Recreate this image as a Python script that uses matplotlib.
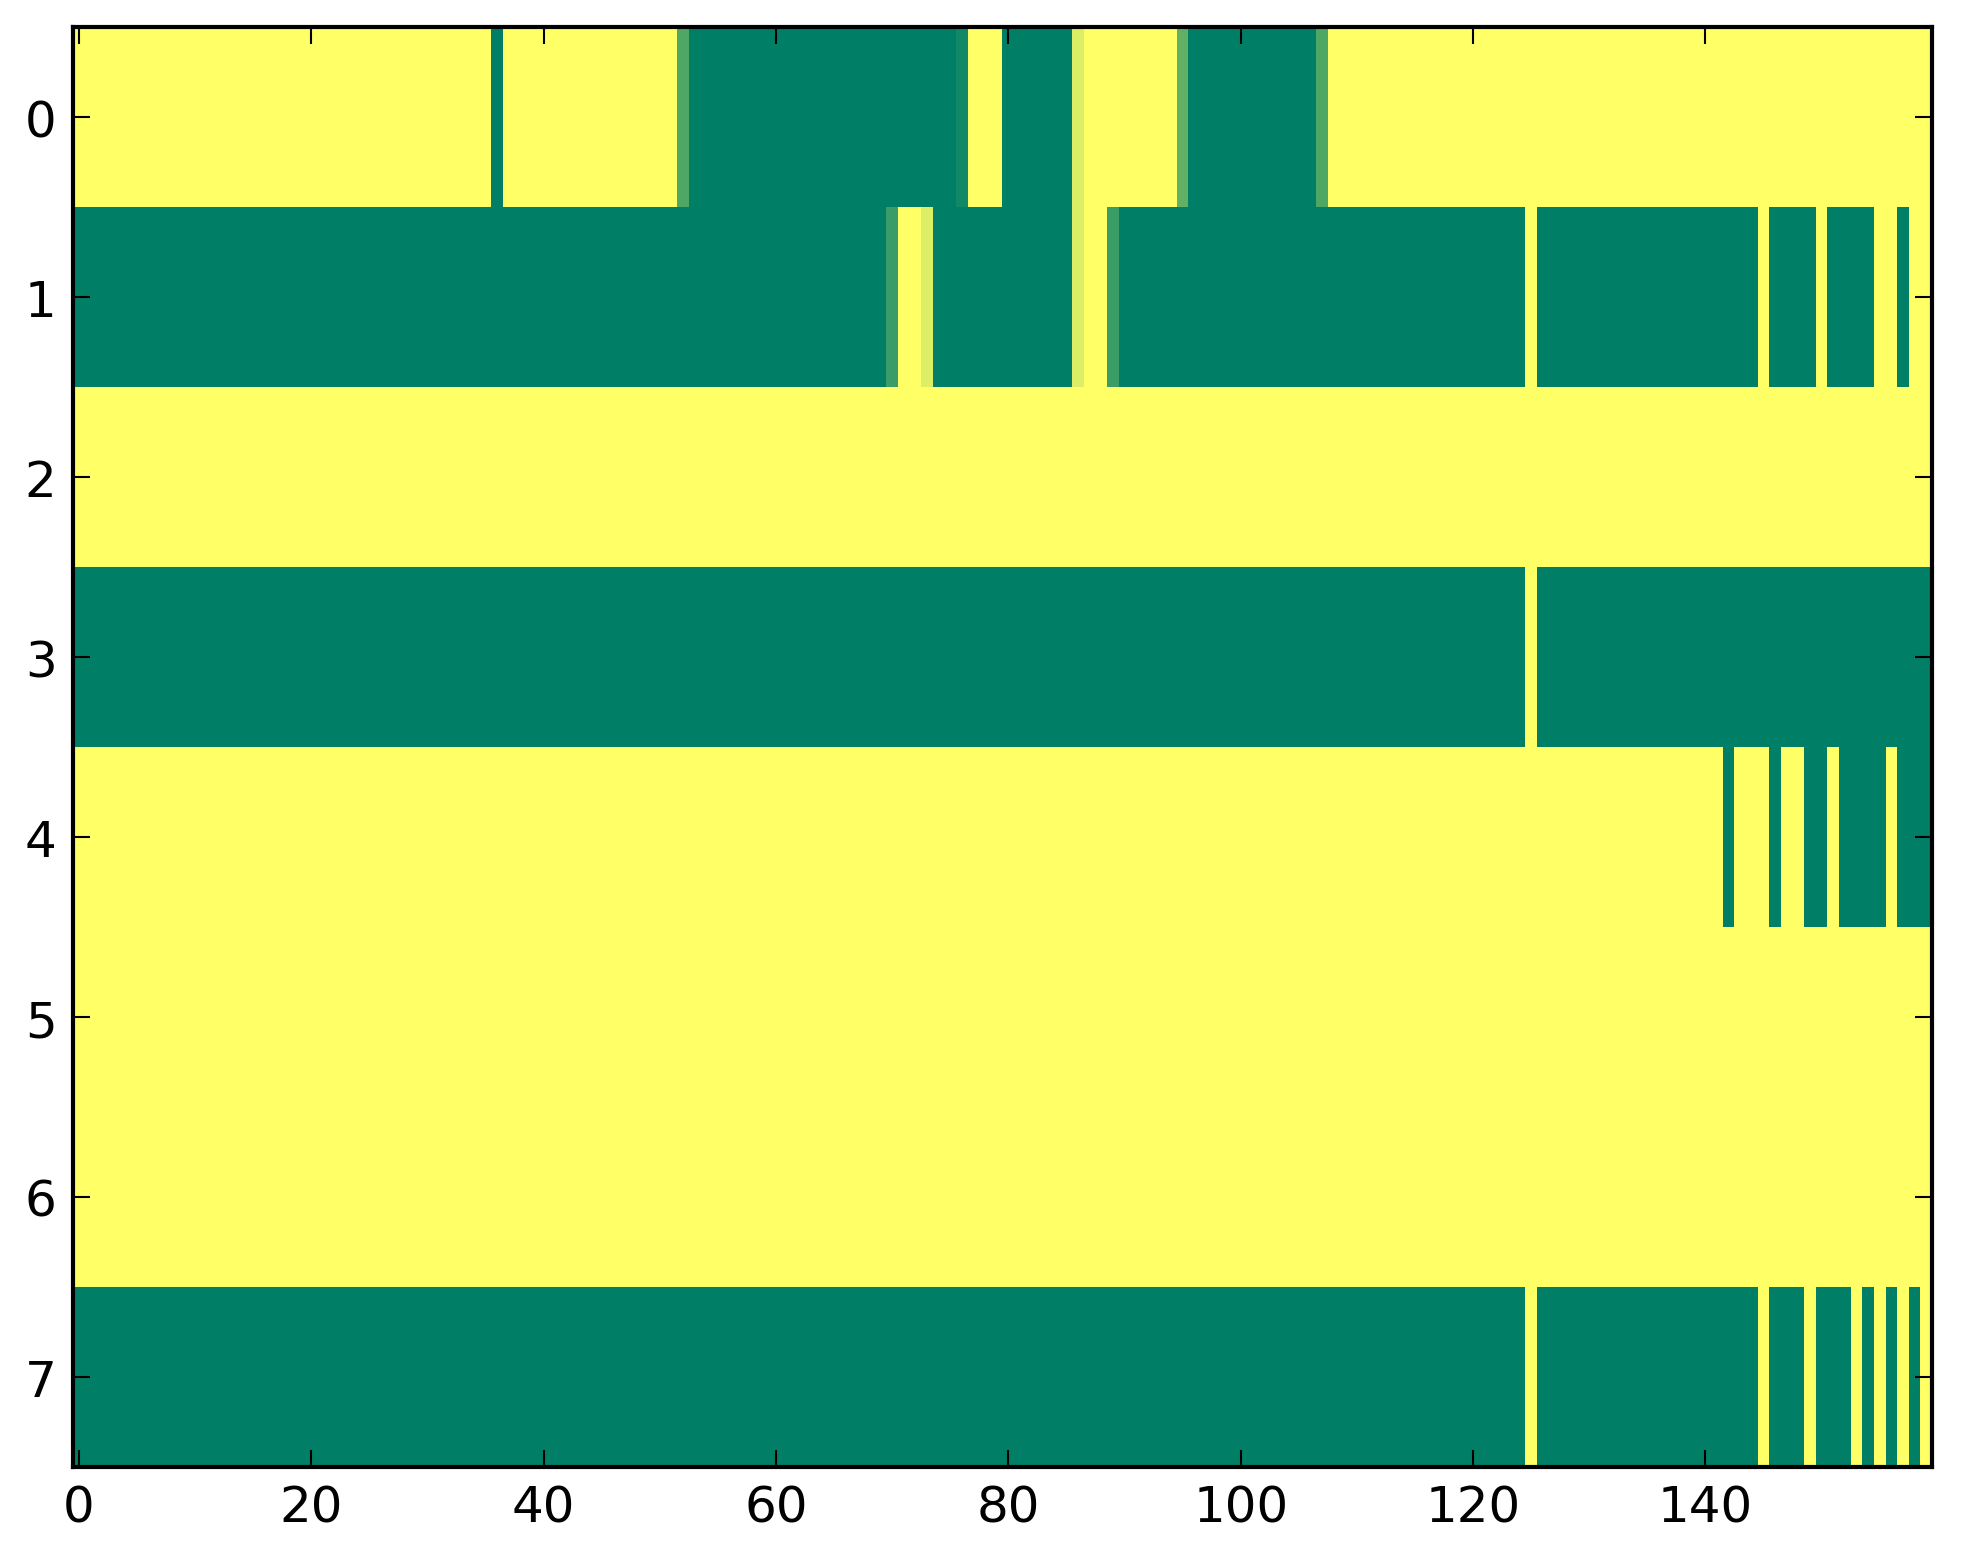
import numpy as np
import matplotlib
matplotlib.use("Agg")
import matplotlib.pyplot as plt

# Run-length encoded rows: (value, count)
row0 = [(1, 36), (0, 1), (1, 15), (0.31, 1), (0, 23), (0.07, 1), (1, 3), (0, 6),
        (0.86, 1), (1, 8), (0.38, 1), (0, 11), (0.31, 1), (1, 52)]
row1 = [(0, 70), (0.23, 1), (1, 2), (0.86, 1), (0, 12), (0.86, 1), (1, 2), (0.23, 1),
        (0, 35), (1, 1), (0, 19), (1, 1), (0, 4), (1, 1), (0, 4), (1, 2), (0, 1), (1, 2)]
row2 = [(1, 160)]
row3 = [(0, 125), (1, 1), (0, 34)]
row4 = [(1, 142), (0, 1), (1, 3), (0, 1), (1, 2), (0, 2), (1, 1), (0, 4), (1, 1), (0, 3)]
row5 = [(1, 160)]
row6 = [(1, 160)]
row7 = [(0, 125), (1, 1), (0, 19), (1, 1), (0, 3), (1, 1), (0, 3), (1, 1), (0, 1),
        (1, 1), (0, 1), (1, 1), (0, 1), (1, 1)]

rows = [row0, row1, row2, row3, row4, row5, row6, row7]
x_ticks = [0, 20, 40, 60, 80, 100, 120, 140]
y_ticks = [0, 1, 2, 3, 4, 5, 6, 7]


def expand(runs):
    vals = []
    for v, n in runs:
        vals.extend([v] * n)
    return vals


data = np.array([expand(r) for r in rows], dtype=float)

plt.rcParams.update({
    "font.family": "DejaVu Sans",
    "font.size": 12,
    "xtick.direction": "in",
    "ytick.direction": "in",
    "xtick.top": True,
    "ytick.right": True,
    "xtick.major.size": 4,
    "ytick.major.size": 4,
    "xtick.major.width": 0.5,
    "ytick.major.width": 0.5,
    "xtick.major.pad": 4,
    "ytick.major.pad": 4,
    "axes.linewidth": 1.0,
})

dpi = 300
fig = plt.figure(figsize=(1963 / dpi, 1564 / dpi), dpi=dpi)
fig.patch.set_facecolor("white")
ax = fig.add_axes([73.2 / 1963, 1 - 1468 / 1564, (1932 - 73.2) / 1963, (1468 - 28) / 1564])
ax.imshow(data, cmap="summer", vmin=0, vmax=1, aspect="auto", interpolation="nearest")
ax.set_xticks(x_ticks)
ax.set_yticks(y_ticks)
ax.set_xlim(-0.5, data.shape[1] - 0.5)
ax.set_ylim(data.shape[0] - 0.5, -0.5)
ax.tick_params(axis="both", which="both", colors="black")
fig.savefig("out.png", dpi=dpi, facecolor="white")
